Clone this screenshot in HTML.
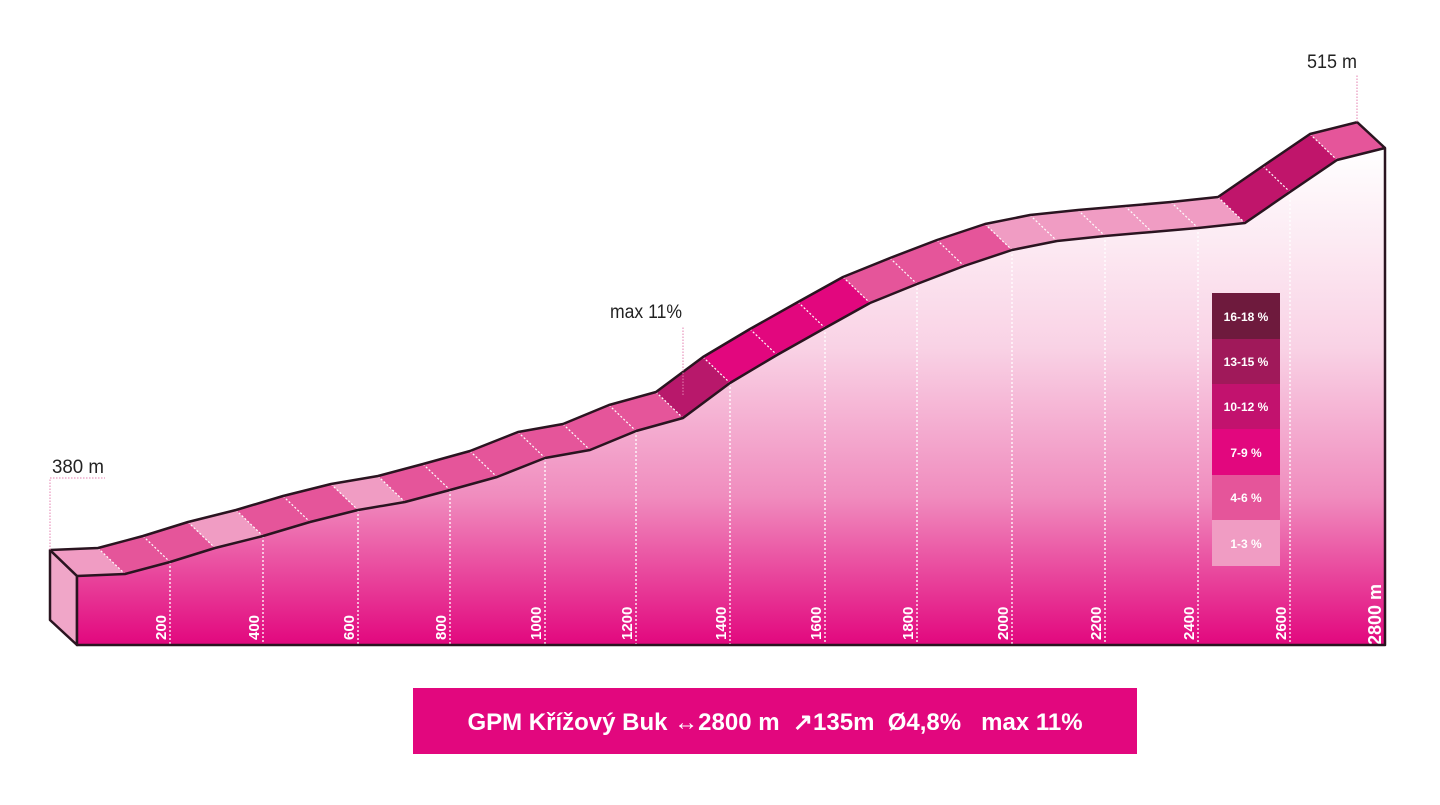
<!DOCTYPE html>
<html><head><meta charset="utf-8"><style>
body{margin:0;background:#fff;width:1440px;height:800px;overflow:hidden;font-family:"Liberation Sans",sans-serif}
</style></head><body>
<svg width="1440" height="800" viewBox="0 0 1440 800" xmlns="http://www.w3.org/2000/svg">
<defs>
<linearGradient id="g" gradientUnits="userSpaceOnUse" x1="0" y1="150" x2="0" y2="645">
<stop offset="0" stop-color="#ffffff"/><stop offset="0.4" stop-color="#f9d2e5"/><stop offset="0.7" stop-color="#f08cbe"/><stop offset="1" stop-color="#e2077e"/>
</linearGradient>
</defs>
<polygon points="50,550 77,576 77,645 50,620" fill="#f0a6c8" stroke="#2a1420" stroke-width="2.5" stroke-linejoin="round"/>
<g id="seg"></g>
<g id="front"></g>
<g font-family="Liberation Sans,sans-serif" font-size="19" fill="#222">
<text x="52" y="473" textLength="52" lengthAdjust="spacingAndGlyphs">380 m</text>
<text x="610" y="318" textLength="72" lengthAdjust="spacingAndGlyphs">max 11%</text>
<text x="1307" y="68" textLength="50" lengthAdjust="spacingAndGlyphs">515 m</text>
</g>
<g stroke="#e580b0" stroke-width="1" stroke-dasharray="1.5,1.5" fill="none">
<polyline points="50,550 50,478 105,478"/>
<polyline points="683,395 683,327"/>
<polyline points="1357,122 1357,75"/>
</g>
<g font-family="Liberation Sans,sans-serif" font-size="12" font-weight="bold" fill="#fff" text-anchor="middle">
<rect x="1212" y="293" width="68" height="46" fill="#6e1a3d"/><text x="1246" y="321">16-18 %</text>
<rect x="1212" y="339" width="68" height="45" fill="#a0195a"/><text x="1246" y="366">13-15 %</text>
<rect x="1212" y="384" width="68" height="45" fill="#c2126e"/><text x="1246" y="411">10-12 %</text>
<rect x="1212" y="429" width="68" height="46" fill="#e2077e"/><text x="1246" y="457">7-9 %</text>
<rect x="1212" y="475" width="68" height="45" fill="#e5559a"/><text x="1246" y="502">4-6 %</text>
<rect x="1212" y="520" width="68" height="46" fill="#f09cc3"/><text x="1246" y="548">1-3 %</text>
</g>
<rect x="413" y="688" width="724" height="66" fill="#e2077e"/>
<text x="775" y="730" text-anchor="middle" font-family="Liberation Sans,sans-serif" font-size="24" font-weight="bold" fill="#fff" style="white-space:pre" xml:space="preserve">GPM Křížový Buk ↔2800 m  ↗135m  Ø4,8%   max 11%</text>
</svg>
<script>
const L=[[77,576],[125,574],[170,562],[215,548],[263,536],[310,522],[358,510],[405,502],[450,490],[497,477],[545,458],[590,450],[636,431],[683,418],[730,383],[777,355],[825,328],[870,303],[917,284],[964,266],[1012,250],[1057,241],[1105,236],[1152,232],[1198,228],[1245,223],[1290,192],[1337,160],[1385,148]];
const U=L.map(p=>[p[0]-27,p[1]-26]);
const lt="#f09cc3",md="#e5559a",dk="#b8186b",p7="#e2077e",d2="#c0156b";
const C=[lt,md,md,lt,md,md,lt,md,md,md,md,md,md,dk,p7,p7,p7,md,md,md,lt,lt,lt,lt,lt,d2,d2,md];
const ns="http://www.w3.org/2000/svg";
function el(t,a,par){const e=document.createElementNS(ns,t);for(const k in a)e.setAttribute(k,a[k]);document.getElementById(par).appendChild(e);return e;}
for(let i=0;i<L.length-1;i++){
 el("polygon",{points:`${U[i]} ${U[i+1]} ${L[i+1]} ${L[i]}`,fill:C[i],stroke:C[i],"stroke-width":0.5},"seg");
 if(i>0)el("line",{x1:U[i][0],y1:U[i][1],x2:L[i][0],y2:L[i][1],stroke:"#fff","stroke-width":1.2,"stroke-dasharray":"2,2"},"seg");
}
el("polyline",{points:U.map(p=>p.join(",")).join(" "),fill:"none",stroke:"#2a1420","stroke-width":2.5,"stroke-linejoin":"round"},"seg");
el("polygon",{points:L.map(p=>p.join(",")).join(" ")+" 1385,645 77,645",fill:"url(#g)",stroke:"none"},"front");
const ticks=[[170,"200"],[263,"400"],[358,"600"],[450,"800"],[545,"1000"],[636,"1200"],[730,"1400"],[825,"1600"],[917,"1800"],[1012,"2000"],[1105,"2200"],[1198,"2400"],[1290,"2600"]];
function yAt(x){for(let i=0;i<L.length-1;i++)if(x>=L[i][0]&&x<=L[i+1][0]){const t=(x-L[i][0])/(L[i+1][0]-L[i][0]);return L[i][1]+t*(L[i+1][1]-L[i][1]);}return 600;}
for(const [x,l] of ticks){
 el("line",{x1:x,y1:yAt(x),x2:x,y2:645,stroke:"#fff","stroke-width":1.3,"stroke-dasharray":"2,2"},"front");
 const t=el("text",{x:0,y:0,transform:`translate(${x-4},640) rotate(-90)`,fill:"#fff","font-size":"15","font-weight":"bold","font-family":"Liberation Sans,sans-serif"},"front");t.textContent=l;
}
const t=el("text",{x:0,y:0,transform:`translate(1381,645) rotate(-90)`,fill:"#fff","font-size":"18","font-weight":"bold","font-family":"Liberation Sans,sans-serif"},"front");t.textContent="2800 m";
el("polyline",{points:L.map(p=>p.join(",")).join(" ")+" 1385,645 77,645 77,576",fill:"none",stroke:"#2a1420","stroke-width":2.5,"stroke-linejoin":"round"},"front");
el("line",{x1:1357,y1:122,x2:1385,y2:148,stroke:"#2a1420","stroke-width":2.5},"front");
el("line",{x1:50,y1:550,x2:77,y2:576,stroke:"#2a1420","stroke-width":2.5},"front");
</script>
</body></html>
